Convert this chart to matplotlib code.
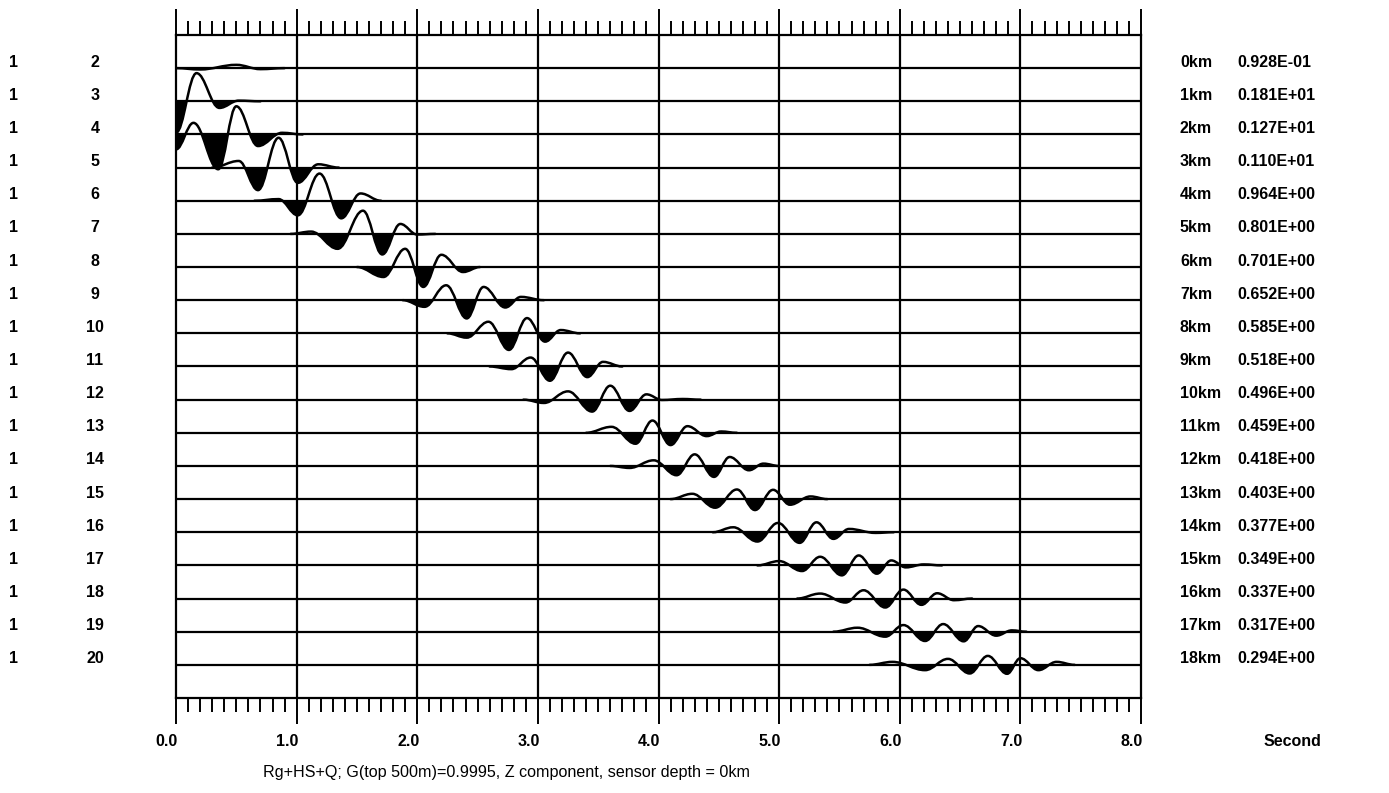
import numpy as np
import matplotlib
matplotlib.use("Agg")
import matplotlib.pyplot as plt
from matplotlib.path import Path
from matplotlib.patches import PathPatch, Rectangle
from matplotlib.ticker import MultipleLocator
from matplotlib.transforms import blended_transform_factory

plt.rcParams['font.family'] = ['Liberation Sans', 'DejaVu Sans']

# extrema of each trace: time (s), amplitude (trace spacing units)
tr0_t = [0.0, 0.2, 0.5, 0.7, 0.9]
tr0_a = [0.0, -0.04, 0.10, -0.03, 0.0]
tr1_t = [0.0, 0.17, 0.36, 0.52, 0.70]
tr1_a = [-0.95, 0.85, -0.20, 0.02, 0.0]
tr2_t = [0.0, 0.145, 0.35, 0.50, 0.68, 0.88, 1.05]
tr2_a = [-0.45, 0.35, -1.05, 0.85, -0.35, 0.05, 0.0]
tr3_t = [0.30, 0.52, 0.68, 0.85, 1.01, 1.18, 1.35]
tr3_a = [0.0, 0.2, -0.68, 0.9, -0.46, 0.1, 0.0]
tr4_t = [0.65, 0.85, 1.01, 1.19, 1.37, 1.53, 1.70]
tr4_a = [0.0, 0.05, -0.44, 0.82, -0.53, 0.22, 0.0]
tr5_t = [0.95, 1.12, 1.34, 1.55, 1.71, 1.86, 2.0, 2.15]
tr5_a = [0.0, 0.07, -0.45, 0.70, -0.62, 0.30, -0.02, 0.0]
tr6_t = [1.50, 1.72, 1.90, 2.05, 2.20, 2.38, 2.52]
tr6_a = [0.0, -0.3, 0.55, -0.6, 0.37, -0.15, 0.0]
tr7_t = [1.88, 2.06, 2.24, 2.41, 2.55, 2.73, 2.86, 3.05]
tr7_a = [0.0, -0.2, 0.45, -0.55, 0.40, -0.22, 0.1, 0.0]
tr8_t = [2.25, 2.41, 2.59, 2.76, 2.91, 3.06, 3.19, 3.35]
tr8_a = [0.0, -0.13, 0.35, -0.5, 0.46, -0.25, 0.1, 0.0]
tr9_t = [2.6, 2.78, 2.94, 3.10, 3.25, 3.41, 3.54, 3.70]
tr9_a = [0.0, -0.08, 0.27, -0.43, 0.42, -0.32, 0.14, 0.0]
tr10_t = [2.88, 3.05, 3.25, 3.45, 3.60, 3.76, 3.90, 4.03, 4.2, 4.35]
tr10_a = [0.0, -0.1, 0.25, -0.36, 0.42, -0.34, 0.16, -0.01, 0.02, 0.0]
tr11_t = [3.40, 3.61, 3.81, 3.95, 4.10, 4.24, 4.40, 4.52, 4.65]
tr11_a = [0.0, 0.18, -0.33, 0.37, -0.37, 0.2, -0.1, 0.04, 0.0]
tr12_t = [3.6, 3.76, 3.96, 4.15, 4.30, 4.46, 4.59, 4.75, 4.87, 5.0]
tr12_a = [0.0, -0.06, 0.17, -0.28, 0.35, -0.33, 0.27, -0.13, 0.07, 0.0]
tr13_t = [4.1, 4.28, 4.47, 4.65, 4.80, 4.95, 5.09, 5.26, 5.4]
tr13_a = [0.0, 0.16, -0.26, 0.29, -0.33, 0.28, -0.17, 0.08, 0.0]
tr14_t = [4.45, 4.62, 4.82, 4.99, 5.17, 5.31, 5.45, 5.58, 5.8, 5.95]
tr14_a = [0.0, 0.15, -0.28, 0.28, -0.32, 0.30, -0.2, 0.1, -0.02, 0.0]
tr15_t = [4.82, 5.0, 5.19, 5.34, 5.52, 5.66, 5.81, 5.93, 6.05, 6.2, 6.35]
tr15_a = [0.0, 0.13, -0.17, 0.26, -0.3, 0.3, -0.25, 0.15, -0.06, 0.03, 0.0]
tr16_t = [5.15, 5.34, 5.55, 5.70, 5.88, 6.03, 6.18, 6.31, 6.45, 6.6]
tr16_a = [0.0, 0.15, -0.12, 0.25, -0.27, 0.27, -0.19, 0.16, -0.05, 0.0]
tr17_t = [5.45, 5.65, 5.88, 6.03, 6.21, 6.36, 6.53, 6.65, 6.80, 6.93, 7.05]
tr17_a = [0.0, 0.12, -0.15, 0.2, -0.28, 0.23, -0.29, 0.17, -0.12, 0.04, 0.0]
tr18_t = [5.75, 5.94, 6.21, 6.40, 6.58, 6.73, 6.89, 7.0, 7.15, 7.30, 7.45]
tr18_a = [0.0, 0.09, -0.16, 0.18, -0.26, 0.27, -0.27, 0.2, -0.16, 0.09, 0.0]

traces = [(tr0_t, tr0_a), (tr1_t, tr1_a), (tr2_t, tr2_a), (tr3_t, tr3_a), (tr4_t, tr4_a),
          (tr5_t, tr5_a), (tr6_t, tr6_a), (tr7_t, tr7_a), (tr8_t, tr8_a), (tr9_t, tr9_a),
          (tr10_t, tr10_a), (tr11_t, tr11_a), (tr12_t, tr12_a), (tr13_t, tr13_a),
          (tr14_t, tr14_a), (tr15_t, tr15_a), (tr16_t, tr16_a), (tr17_t, tr17_a),
          (tr18_t, tr18_a)]

comp_ids = ["1"] * 19
station_ids = [str(i) for i in range(2, 21)]
distances = [f"{i}km" for i in range(19)]
peak_amps = ["0.928E-01", "0.181E+01", "0.127E+01", "0.110E+01", "0.964E+00", "0.801E+00",
             "0.701E+00", "0.652E+00", "0.585E+00", "0.518E+00", "0.496E+00", "0.459E+00",
             "0.418E+00", "0.403E+00", "0.377E+00", "0.349E+00", "0.337E+00", "0.317E+00",
             "0.294E+00"]
tick_labels = ["0.0", "1.0", "2.0", "3.0", "4.0", "5.0", "6.0", "7.0", "8.0"]

W, H = 1389, 793
fig = plt.figure(figsize=(W / 100, H / 100), dpi=100)
ax = fig.add_axes([176 / W, 1 - 698 / H, (1141 - 176) / W, (698 - 35) / H])
ax.set_xlim(0, 8)
ax.set_ylim(19, -1)

lw = 1.6
for s in ax.spines.values():
    s.set_linewidth(lw)

ax.xaxis.set_major_locator(MultipleLocator(1))
ax.xaxis.set_minor_locator(MultipleLocator(0.1))
ax.yaxis.set_visible(False)
ax.tick_params(which='both', top=True, bottom=True, direction='out', width=1.4,
               labelbottom=False)
ax.tick_params(which='major', length=19)
ax.tick_params(which='minor', length=10)

for sec in range(1, 8):
    ax.axvline(sec, color='black', lw=lw, zorder=1)


def wave_path(ts, amps, k):
    verts = [(ts[0], k - amps[0])]
    codes = [Path.MOVETO]
    for i in range(len(ts) - 1):
        t0, t1 = ts[i], ts[i + 1]
        y0, y1 = k - amps[i], k - amps[i + 1]
        h = 0.38 * (t1 - t0)
        verts += [(t0 + h, y0), (t1 - h, y1), (t1, y1)]
        codes += [Path.CURVE4] * 3
    return verts, codes


for k, (ts, amps) in enumerate(traces):
    ax.axhline(k, color='black', lw=lw, zorder=1)
    verts, codes = wave_path(ts, amps, k)
    # filled negative lobes
    fverts = verts + [(ts[-1], k), (ts[0], k), (ts[0], k)]
    fcodes = codes + [Path.LINETO, Path.LINETO, Path.CLOSEPOLY]
    fill = PathPatch(Path(fverts, fcodes), facecolor='black', edgecolor='none', zorder=2)
    clip = Rectangle((0, k), 8, 4, transform=ax.transData)
    ax.add_patch(fill)
    fill.set_clip_path(clip)
    ax.add_patch(PathPatch(Path(verts, codes), facecolor='none', edgecolor='black',
                           lw=1.8, zorder=3, capstyle='round', joinstyle='round'))

fs = 11.5
fy = blended_transform_factory(fig.transFigure, ax.transData)
for k in range(19):
    yk = k - 0.18
    ax.text(14 / W, yk, comp_ids[k], transform=fy, ha='center', va='center',
            fontsize=fs, fontweight='bold', clip_on=False)
    ax.text(95 / W, yk, station_ids[k], transform=fy, ha='center', va='center',
            fontsize=fs, fontweight='bold', clip_on=False)
    ax.text(1180 / W, yk, distances[k], transform=fy, ha='left', va='center',
            fontsize=fs, fontweight='bold', clip_on=False)
    ax.text(1237 / W, yk, peak_amps[k], transform=fy, ha='left', va='center',
            fontsize=fs, fontweight='bold', clip_on=False)

fx = blended_transform_factory(ax.transData, fig.transFigure)
for i, lab in enumerate(tick_labels):
    ax.text(i + 0.017, 1 - 741 / H, lab, transform=fx, ha='right', va='center',
            fontsize=11.5, fontweight='bold', clip_on=False)

fig.text(1264 / W, 1 - 742 / H, "Second", ha='left', va='center', fontsize=11.5,
         fontweight='bold')
fig.text(263 / W, 1 - 773 / H,
         "Rg+HS+Q; G(top 500m)=0.9995, Z component, sensor depth = 0km",
         ha='left', va='center', fontsize=11.6)

fig.savefig("out.png", dpi=100)
